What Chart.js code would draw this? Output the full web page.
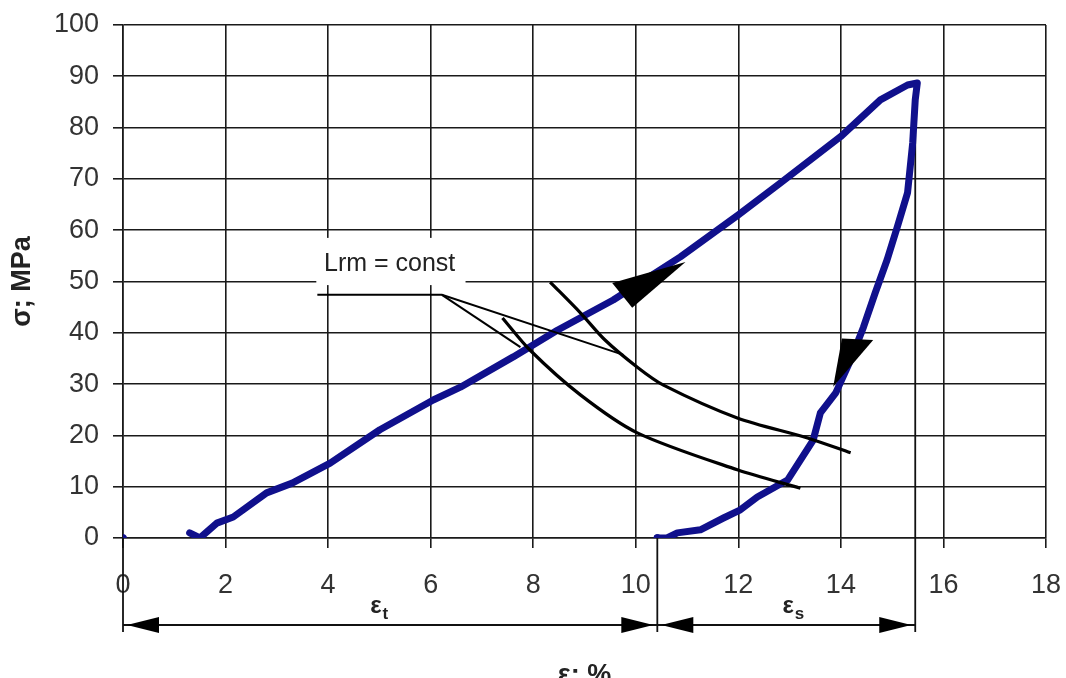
<!DOCTYPE html>
<html>
<head>
<meta charset="utf-8">
<script src="https://cdn.jsdelivr.net/npm/chart.js@4.4.1/dist/chart.umd.min.js"></script>
<style>
    html, body { margin: 0; padding: 0; background: #fff; }
    #wrap { width: 1066px; height: 678px; position: relative; }
</style>
</head>
<body>
<div id="wrap"><canvas id="loopChart"></canvas></div>
<script>
// axis ticks
const xTicks = [0, 2, 4, 6, 8, 10, 12, 14, 16, 18];
const yTicks = [0, 10, 20, 30, 40, 50, 60, 70, 80, 90, 100];

// measured loop: strain (%) / stress (MPa), loading then unloading
const loopX = [1.30, 1.50, 1.83, 2.15, 2.80, 3.30, 4.04, 5.01, 6.05, 6.58, 7.61, 8.47, 9.56, 10.87,
    12.00, 12.82, 13.99, 14.77, 15.30, 15.49, 15.45, 15.40, 15.30, 15.10, 14.90, 14.67, 14.44,
    14.19, 13.90, 13.60, 13.46, 12.96, 12.37, 12.04, 11.71, 11.26, 10.81, 10.61, 10.42];
const loopY = [1.0, 0.0, 2.9, 4.1, 8.8, 10.7, 14.6, 21.1, 26.9, 29.4, 35.3, 40.5, 46.4, 54.8,
    63.0, 69.2, 78.2, 85.4, 88.3, 88.7, 85.4, 77.0, 67.3, 60.6, 54.2, 47.8, 41.1,
    34.7, 28.3, 24.4, 19.1, 11.3, 8.0, 5.5, 3.9, 1.6, 1.0, 0.0, 0.0];

// single points on the strain axis
const dotX = [0, 10.42];
const dotY = [0, 0];

// Lrm = const curves
const lrm1X = [7.40, 7.94, 8.92, 10.03, 11.98, 13.21];
const lrm1Y = [42.9, 36.6, 27.9, 20.5, 13.3, 9.7];
const lrm2X = [8.33, 8.92, 9.40, 10.03, 10.54, 11.98, 13.35, 14.19];
const lrm2Y = [49.9, 43.9, 38.6, 33.3, 29.8, 23.4, 19.5, 16.6];

// leader lines from the label
const leaderAX = [3.79, 6.22, 9.76];
const leaderAY = [47.4, 47.4, 35.7];
const leaderBX = [6.22, 7.75];
const leaderBY = [47.4, 37.2];

// direction arrows on the loop (triangle corners)
const arrowUpX = [10.97, 9.54, 9.93];
const arrowUpY = [53.8, 49.7, 44.9];
const arrowDownX = [13.85, 14.02, 14.63];
const arrowDownY = [29.5, 38.9, 38.6];

// strain split: start, eps_t end, eps_s end
const dimX = [0, 10.42, 15.45];
const peakStress = 88;

const labelText = 'Lrm = const';
const FONT = '"Liberation Sans", Arial, sans-serif';

const toPoints = (xs, ys) => xs.map((v, i) => ({ x: v, y: ys[i] }));

function line(ctx, x1, y1, x2, y2) {
    ctx.beginPath();
    ctx.moveTo(x1, y1);
    ctx.lineTo(x2, y2);
    ctx.stroke();
}

function head(ctx, tx, ty, dir) {
    const len = 32, h = 8;
    ctx.beginPath();
    ctx.moveTo(tx, ty);
    ctx.lineTo(tx - dir * len, ty - h);
    ctx.lineTo(tx - dir * len, ty + h);
    ctx.closePath();
    ctx.fill();
}

function triangle(ctx, xs, ys, sx, sy) {
    ctx.beginPath();
    xs.forEach((v, i) => {
        const px = sx.getPixelForValue(v), py = sy.getPixelForValue(ys[i]);
        if (i === 0) ctx.moveTo(px, py); else ctx.lineTo(px, py);
    });
    ctx.closePath();
    ctx.fill();
}

const annotations = {
    id: 'annotations',
    beforeDatasetsDraw(chart) {
        const { ctx, scales: { x, y } } = chart;
        ctx.save();
        // label box hides the grid
        const bx1 = x.getPixelForValue(3.77), bx2 = x.getPixelForValue(6.68);
        const by1 = y.getPixelForValue(58.5), by2 = y.getPixelForValue(49.3);
        ctx.fillStyle = '#fff';
        ctx.fillRect(bx1, by1, bx2 - bx1, by2 - by1);
        ctx.fillStyle = '#222';
        ctx.font = '25px ' + FONT;
        ctx.textAlign = 'center';
        ctx.textBaseline = 'middle';
        ctx.fillText(labelText, x.getPixelForValue(5.2), y.getPixelForValue(53.4));

        // extension lines
        const y0 = y.getPixelForValue(0);
        ctx.strokeStyle = '#111';
        ctx.lineWidth = 1.8;
        dimX.forEach((v, i) => {
            const px = x.getPixelForValue(v);
            const top = i === 2 ? y.getPixelForValue(peakStress) : y0;
            line(ctx, px, top, px, y0 + 94);
        });
        ctx.restore();
    },
    afterDatasetsDraw(chart) {
        const { ctx, scales: { x, y } } = chart;
        ctx.save();
        ctx.fillStyle = '#000';
        triangle(ctx, arrowUpX, arrowUpY, x, y);
        triangle(ctx, arrowDownX, arrowDownY, x, y);

        // dimension line below the axis
        const y0 = y.getPixelForValue(0);
        const dimY = y0 + 87;
        ctx.strokeStyle = '#111';
        ctx.lineWidth = 1.8;
        line(ctx, x.getPixelForValue(dimX[0]), dimY, x.getPixelForValue(dimX[2]), dimY);
        for (let i = 0; i < dimX.length - 1; i++) {
            head(ctx, x.getPixelForValue(dimX[i]) + 4, dimY, -1);
            head(ctx, x.getPixelForValue(dimX[i + 1]) - 4, dimY, 1);
        }

        // eps_t and eps_s
        ctx.fillStyle = '#222';
        ctx.textAlign = 'left';
        ctx.textBaseline = 'alphabetic';
        [[4.82, 't'], [12.86, 's']].forEach(([v, sub]) => {
            const px = x.getPixelForValue(v);
            ctx.font = 'bold 24px ' + FONT;
            ctx.fillText('ε', px, y0 + 75);
            const w = ctx.measureText('ε').width;
            ctx.font = 'bold 17px ' + FONT;
            ctx.fillText(sub, px + w + 1, y0 + 81);
        });
        ctx.restore();
    }
};

const gridColor = '#1a1a1a';
const blue = '#10108c';

new Chart(document.getElementById('loopChart'), {
    type: 'scatter',
    data: {
        datasets: [
            {
                data: toPoints(lrm1X, lrm1Y),
                showLine: true, borderColor: '#000', borderWidth: 3.2,
                pointRadius: 0, tension: 0.3
            },
            {
                data: toPoints(lrm2X, lrm2Y),
                showLine: true, borderColor: '#000', borderWidth: 3.2,
                pointRadius: 0, tension: 0.3
            },
            {
                data: toPoints(leaderAX, leaderAY),
                showLine: true, borderColor: '#000', borderWidth: 2,
                pointRadius: 0
            },
            {
                data: toPoints(leaderBX, leaderBY),
                showLine: true, borderColor: '#000', borderWidth: 2,
                pointRadius: 0
            },
            {
                data: toPoints(loopX, loopY),
                showLine: true, borderColor: blue, borderWidth: 7,
                borderJoinStyle: 'round', borderCapStyle: 'round',
                pointRadius: 0
            },
            {
                data: toPoints(dotX, dotY),
                showLine: false, pointRadius: 3.5,
                backgroundColor: blue, borderColor: blue
            }
        ]
    },
    options: {
        responsive: true,
        maintainAspectRatio: false,
        animation: false,
        layout: { padding: { top: 25, right: 20, left: 0, bottom: 0 } },
        plugins: {
            legend: { display: false },
            tooltip: { enabled: false }
        },
        scales: {
            x: {
                type: 'linear', min: 0, max: 18,
                afterBuildTicks: (s) => { s.ticks = xTicks.map(v => ({ value: v })); },
                afterFit: (s) => {
                    s.height = 140;
                    s.paddingLeft = 0;
                    s.paddingRight = 0;
                },
                grid: { color: gridColor, lineWidth: 1.6, tickLength: 10 },
                border: { color: gridColor, width: 1.6 },
                ticks: {
                    color: '#333', padding: 21, maxRotation: 0,
                    font: { size: 27, family: FONT }
                },
                title: {
                    display: true, text: 'ε; %', color: '#222',
                    font: { size: 27, weight: 'bold', family: FONT },
                    padding: { top: 0, bottom: -14 }
                }
            },
            y: {
                type: 'linear', min: 0, max: 100,
                afterBuildTicks: (s) => { s.ticks = yTicks.map(v => ({ value: v })); },
                afterFit: (s) => {
                    s.width = 123;
                    s.paddingTop = 0;
                    s.paddingBottom = 0;
                },
                grid: { color: gridColor, lineWidth: 1.6, tickLength: 10 },
                border: { color: gridColor, width: 1.6 },
                ticks: {
                    color: '#333', padding: 14,
                    font: { size: 27, family: FONT }
                },
                title: {
                    display: true, text: 'σ; MPa', color: '#222',
                    font: { size: 27, weight: 'bold', family: FONT },
                    padding: { top: 6, bottom: 0 }
                }
            }
        }
    },
    plugins: [annotations]
});
</script>
</body>
</html>
